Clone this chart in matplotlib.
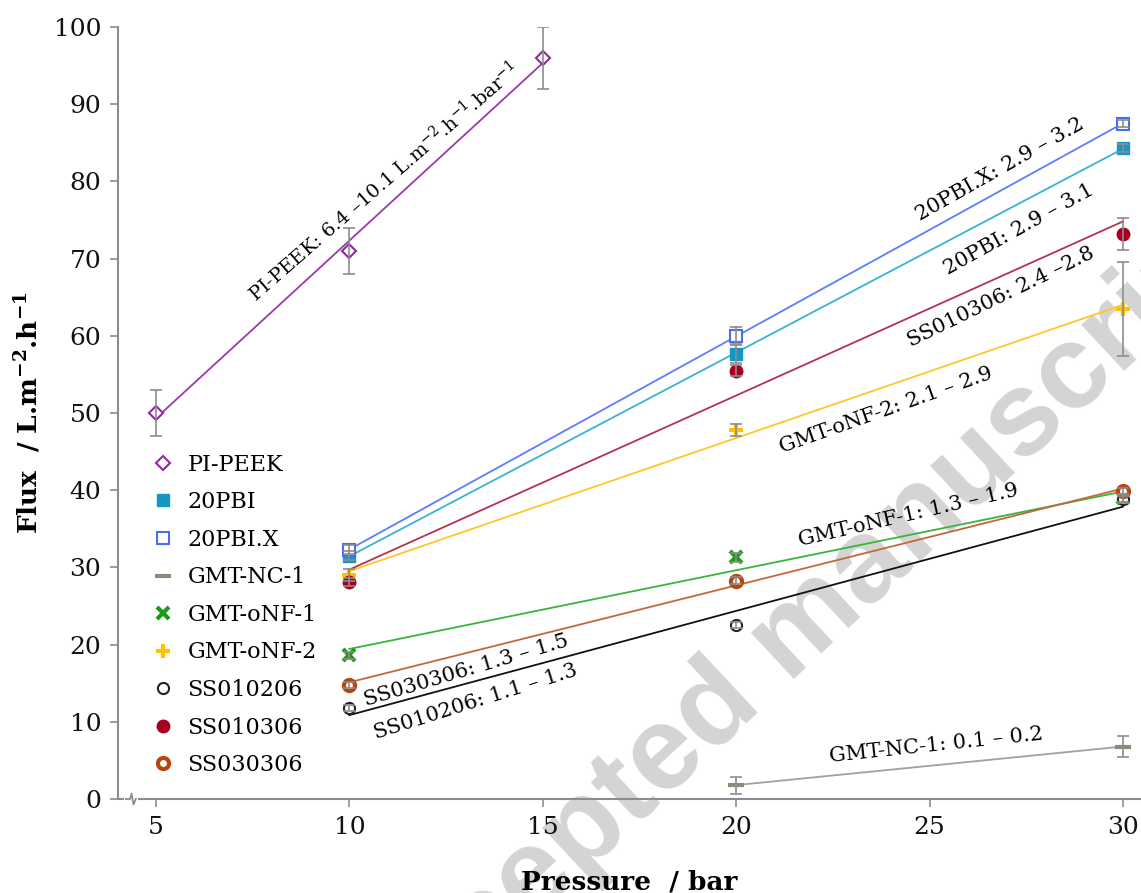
import numpy as np
import matplotlib
matplotlib.use("Agg")
import matplotlib.pyplot as plt

plt.rcParams['font.family'] = ['DejaVu Serif']
plt.rcParams['mathtext.fontset'] = 'custom'
plt.rcParams['mathtext.rm'] = 'DejaVu Serif'
plt.rcParams['mathtext.bf'] = 'DejaVu Serif:bold'
plt.rcParams['mathtext.default'] = 'rm'

# data: pressure (bar), flux (L m-2 h-1), error
names = ["PI-PEEK", "20PBI", "20PBI.X", "GMT-NC-1", "GMT-oNF-1",
         "GMT-oNF-2", "SS010206", "SS010306", "SS030306"]
pressure = {
    "PI-PEEK": [5, 10, 15],
    "20PBI": [10, 20, 30],
    "20PBI.X": [10, 20, 30],
    "GMT-NC-1": [20, 30],
    "GMT-oNF-1": [10, 20, 30],
    "GMT-oNF-2": [10, 20, 30],
    "SS010206": [10, 20, 30],
    "SS010306": [10, 20, 30],
    "SS030306": [10, 20, 30],
}
flux = {
    "PI-PEEK": [50.0, 71.0, 96.0],
    "20PBI": [31.5, 57.7, 84.3],
    "20PBI.X": [32.3, 60.0, 87.5],
    "GMT-NC-1": [1.8, 6.8],
    "GMT-oNF-1": [18.6, 31.3, 39.0],
    "GMT-oNF-2": [29.0, 47.8, 63.5],
    "SS010206": [11.8, 22.5, 38.8],
    "SS010306": [28.1, 55.5, 73.2],
    "SS030306": [14.8, 28.3, 39.9],
}
flux_err = {
    "PI-PEEK": [3.0, 3.0, 4.0],
    "20PBI": [0.6, 1.2, 0.5],
    "20PBI.X": [0.6, 1.2, 0.5],
    "GMT-NC-1": [1.1, 1.4],
    "GMT-oNF-1": [0.5, 0.6, 0.5],
    "GMT-oNF-2": [0.8, 0.8, 6.1],
    "SS010206": [0.4, 0.4, 0.4],
    "SS010306": [0.5, 0.7, 2.1],
    "SS030306": [0.4, 0.4, 0.4],
}

# permeance labels
labels = ["PI-PEEK: 6.4 \u201310.1 L.m$^{-2}$.h$^{-1}$.bar$^{-1}$",
          "20PBI.X: 2.9 \u2013 3.2", "20PBI: 2.9 \u2013 3.1",
          "SS010306: 2.4 \u20132.8", "GMT-oNF-2: 2.1 \u2013 2.9",
          "GMT-oNF-1: 1.3 \u2013 1.9", "SS030306: 1.3 \u2013 1.5",
          "SS010206: 1.1 \u2013 1.3", "GMT-NC-1: 0.1 \u2013 0.2"]
label_x = [10.87, 26.82, 27.31, 26.85, 23.87, 24.44, 13.01, 13.27, 25.17]
label_y = [79.9, 81.6, 73.8, 65.0, 50.4, 36.8, 16.7, 12.6, 6.9]
label_rot = [41, 29.5, 29, 26, 19.5, 13, 16.5, 17.5, 6]
label_size = [14, 15, 15, 15, 15, 15, 15, 15, 15]

style = {
    "PI-PEEK": dict(marker='D', ms=7, mfc='white', mec='#8E2A9E', mew=1.5, line='#9A3AAA'),
    "20PBI": dict(marker='s', ms=8, mfc='#1597C6', mec='#1597C6', mew=1, line='#3AB2D6'),
    "20PBI.X": dict(marker='s', ms=8, mfc='white', mec='#4A6CF0', mew=1.5, line='#5E7CFF'),
    "GMT-NC-1": dict(marker='_', ms=11, mfc='#8C8C7A', mec='#8C8C7A', mew=3, line='#A0A0A0'),
    "GMT-oNF-1": dict(marker='x', ms=8, mfc='#1A9A1A', mec='#1A9A1A', mew=3, line='#3BB43B'),
    "GMT-oNF-2": dict(marker='+', ms=10, mfc='#FFC000', mec='#FFC000', mew=3, line='#FFC627'),
    "SS010206": dict(marker='o', ms=8, mfc='white', mec='#222222', mew=1.5, line='#111111'),
    "SS010306": dict(marker='o', ms=9, mfc='#A50021', mec='#A50021', mew=1, line='#B33350'),
    "SS030306": dict(marker='o', ms=8, mfc='white', mec='#B5470E', mew=3, line='#C06A3C'),
}

fig = plt.figure(figsize=(11.41, 8.93), dpi=100)
ax = fig.add_axes([0.1034, 0.10526, 0.8966, 0.8645])

ax.text(0.696, 0.2867, "Accepted manuscript", transform=fig.transFigure,
        family='Liberation Sans', weight='bold', fontsize=86, color='#D4D4D4',
        rotation=43, rotation_mode='anchor', ha='center', va='center',
        zorder=0.5, clip_on=False)

for n in names:
    s = style[n]
    x = np.array(pressure[n], dtype=float)
    y = np.array(flux[n], dtype=float)
    k, b = np.polyfit(x, y, 1)
    xs = np.array([x.min(), x.max()])
    ax.plot(xs, k * xs + b, color=s['line'], lw=1.3, zorder=2)
    ax.plot(x, y, linestyle='none', marker=s['marker'], ms=s['ms'],
            mfc=s['mfc'], mec=s['mec'], mew=s['mew'], label=n, zorder=3)
    ax.errorbar(x, y, yerr=flux_err[n], fmt='none', ecolor='#8C8C8C',
                elinewidth=1.2, capsize=4, capthick=1.2, zorder=4)

for t, tx, ty, r, fs in zip(labels, label_x, label_y, label_rot, label_size):
    ax.text(tx, ty, t, fontsize=fs, rotation=r, rotation_mode='anchor',
            ha='center', va='center', zorder=5)

ax.set_xlim(4.018, 30.465)
ax.set_ylim(0, 100)
ax.set_xticks([5, 10, 15, 20, 25, 30])
ax.set_yticks(np.arange(0, 101, 10))
for sp in ['top', 'right']:
    ax.spines[sp].set_visible(False)
for sp in ['left', 'bottom']:
    ax.spines[sp].set_color('#8C8C8C')
    ax.spines[sp].set_linewidth(1.5)
ax.tick_params(direction='out', length=6, width=1.2, color='#8C8C8C',
               labelsize=18, labelcolor='#111111', pad=6)

# axis break mark
ax.plot([4.22, 4.48], [0, 0], color='white', lw=3, clip_on=False, zorder=6)
ax.plot([4.22, 4.33, 4.37, 4.42, 4.48], [0, 0, 0.7, -0.7, 0], color='#8C8C8C',
        lw=1.3, clip_on=False, zorder=7)

ax.set_xlabel("Pressure  / bar", fontsize=19, fontweight='bold', labelpad=22)
ax.set_ylabel(r"Flux  / L.m$^{\mathbf{-2}}$.h$^{\mathbf{-1}}$", fontsize=19,
              fontweight='bold', labelpad=8)

leg = ax.legend(loc='upper left', bbox_to_anchor=(0.1332, 0.492),
                bbox_transform=fig.transFigure, frameon=False, fontsize=16,
                handlelength=1.0, handletextpad=0.6, labelspacing=0.70,
                borderpad=0, borderaxespad=0)

fig.savefig("out.png", dpi=100, facecolor='white')
